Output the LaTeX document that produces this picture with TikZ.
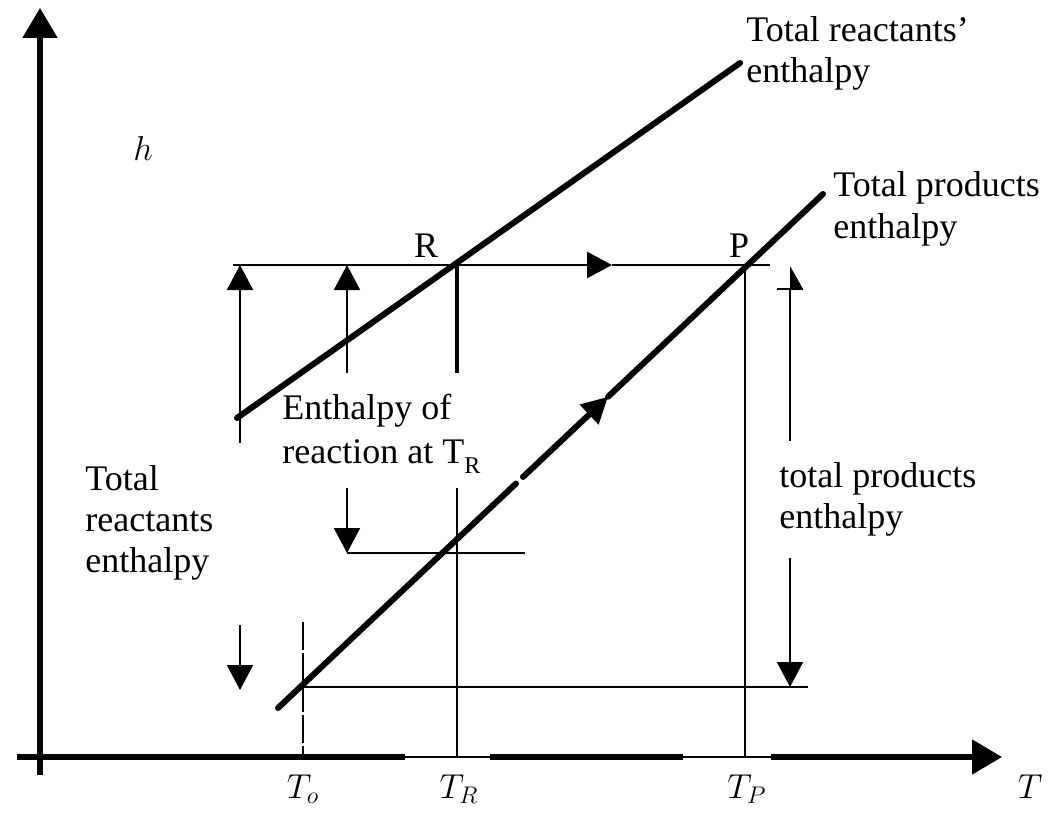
\documentclass[tikz,border=0pt]{standalone}
\usepackage{fontspec}
\setmainfont{Liberation Serif}
\usetikzlibrary{arrows.meta,calc}
\begin{document}
\begin{tikzpicture}[x=0.5pt,y=-0.5pt,
  axisln/.style={line width=2.6pt},
  axisthin/.style={line width=1.1pt},
  curve/.style={line width=3pt, line cap=round},
  thinln/.style={line width=0.9pt},
  medln/.style={line width=1.4pt},
  boldln/.style={line width=1.9pt},
  tip/.style={-{Triangle[length=12.5pt,width=13pt]}},
  lbl/.style={font=\fontsize{18}{21}\selectfont, inner sep=0pt},
  mlbl/.style={font=\fontsize{17.28}{20}\selectfont, inner sep=0pt},
]
\useasboundingbox (0,0) rectangle (1053,813);
% axes
\coordinate (Ybot) at (40,775);
\coordinate (Ytip) at (40,8);
\coordinate (Xl) at (17,757);
\coordinate (Xtip) at (1002,757);
\draw[axisln, -{Triangle[length=15pt,width=17pt]}] (Ybot) -- (Ytip);
\draw[axisthin] (Xl) -- (980,757);
\draw[axisln] (Xl) -- (405,757);
\draw[axisln] (490,757) -- (683,757);
\draw[axisln, -{Triangle[length=15pt,width=17pt]}] (771,757) -- (Xtip);
% key points
\coordinate (RA) at (237,418);
\coordinate (RB) at (740,63);
\coordinate (R) at (457,265);
\coordinate (PA) at (278,708);
\coordinate (PB) at (823,194);
\coordinate (P) at (747,265);
% reactants line
\draw[curve] (RA) -- (RB);
% products line with gap and mid arrow
\coordinate (G1) at ($(PA)!0.4367!(PB)$);
\coordinate (G2) at ($(PA)!0.4495!(PB)$);
\coordinate (Pm) at ($(PA)!0.6055!(PB)$);
\draw[curve] (PA) -- (G1);
\draw[curve, -{Triangle[length=13pt,width=13pt]}] (G2) -- (Pm);
\draw[curve] (Pm) -- (PB);
% top horizontal line R -> P
\coordinate (H1) at (233,265);
\coordinate (Hm) at (612,265);
\coordinate (H2) at (770,265);
\draw[medln, tip] (H1) -- (Hm);
\draw[medln] (Hm) -- (H2);
% left up arrows
\coordinate (A1b) at (240,443);
\coordinate (A1t) at (240,265);
\draw[thinln, tip] (A1b) -- (A1t);
\coordinate (A2b) at (347,373);
\coordinate (A2t) at (347,265);
\draw[thinln, tip] (A2b) -- (A2t);
% R vertical and T_R vertical
\coordinate (Rv) at (457,373);
\draw[boldln] (R) -- (Rv);
\coordinate (TRt) at (457,488);
\coordinate (TRb) at (457,757);
\draw[medln] (TRt) -- (TRb);
% down arrow to products at T_R
\coordinate (D1t) at (347,488);
\coordinate (D1b) at (347,553);
\coordinate (D1r) at (525,553);
\draw[thinln, tip] (D1t) -- (D1b);
\draw[thinln] (D1b) -- (D1r);
% left down arrow
\coordinate (D2t) at (240,625);
\coordinate (D2b) at (240,690);
\draw[thinln, tip] (D2t) -- (D2b);
% horizontal at T_o level
\coordinate (Hl) at (303,687);
\coordinate (Hr) at (808,687);
\draw[medln] (Hl) -- (Hr);
% T_o dashed vertical
\coordinate (Tot) at (303,622);
\coordinate (Tob) at (303,757);
\draw[medln, dash pattern=on 14pt off 1.5pt] (Tot) -- (Tob);
% T_P vertical
\coordinate (TPb) at (745,757);
\draw[thinln] (745,265) -- (TPb);
% right double arrow (total products enthalpy)
\coordinate (E1b) at (790,441);
\coordinate (E1t) at (790,289);
\draw[thinln] (E1b) -- (E1t);
\draw[thinln] (777,289) -- (803,289);
\fill (790,266) -- (790,289) -- (803,289) -- cycle;
\coordinate (E2t) at (790,558);
\coordinate (E2b) at (790,687);
\draw[thinln, tip] (E2t) -- (E2b);
% labels
\node[lbl, anchor=base west] (l1a) at (746,42) {Total reactants’};
\node[lbl, anchor=base west] (l1b) at (746,83) {enthalpy};
\node[lbl, anchor=base west] (l2a) at (833,196) {Total products};
\node[lbl, anchor=base west] (l2b) at (833,238) {enthalpy};
\node[lbl, anchor=base] (lR) at (426,257) {R};
\node[lbl, anchor=base] (lP) at (739,257) {P};
\node[lbl, anchor=base west] (l3a) at (282,419) {Enthalpy of};
\node[lbl, anchor=base west] (l3b) at (282,463) {reaction at T\raisebox{-0.3em}{\fontsize{12}{12}\selectfont R}};
\node[lbl, anchor=base west] (l4a) at (85,490) {Total};
\node[lbl, anchor=base west] (l4b) at (85,531) {reactants};
\node[lbl, anchor=base west] (l4c) at (85,572) {enthalpy};
\node[lbl, anchor=base west] (l5a) at (779,487) {total products};
\node[lbl, anchor=base west] (l5b) at (779,528) {enthalpy};
\node[mlbl, anchor=base] (lh) at (143,160) {$h$};
\node[mlbl, anchor=base] (lT) at (1030,798) {$T$};
\node[mlbl, anchor=base] (lTo) at (303,798) {$T_o$};
\node[mlbl, anchor=base] (lTR) at (459,798) {$T_R$};
\node[mlbl, anchor=base] (lTP) at (747,798) {$T_P$};
\end{tikzpicture}
\end{document}
